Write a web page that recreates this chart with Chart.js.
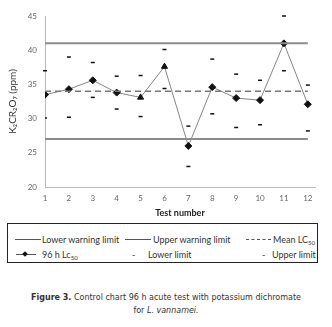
<!DOCTYPE html>
<html lang="en">
<head>
  <meta charset="UTF-8" />
  <title>Control chart 96 h acute test</title>
  <script src="https://cdn.jsdelivr.net/npm/chart.js"></script>
  <style>
    body { margin: 0; background: #fff; font-family: Lato, "Open Sans", sans-serif; }
    #wrap { position: relative; width: 332px; height: 327px; }
    #chartBox { position: absolute; left: 0; top: 0; width: 332px; height: 222px; }

    /* Legend box */
    .legend { position: absolute; left: 7px; top: 223px; width: 311px; height: 40px;
              border: 1px solid #222; box-sizing: border-box; font-size: 9px; color: #333; }
    .legend .t { position: absolute; white-space: nowrap; line-height: 11px; }
    .legend sub { font-size: 6px; vertical-align: -2px; line-height: 0; }
    .legend .ln { position: absolute; height: 0; border-top: 1px solid #555; }
    .legend .dash { position: absolute; height: 0; border-top: 1px dashed #555; }
    .legend .dia { position: absolute; width: 4px; height: 4px; background: #111; transform: rotate(45deg); }

    /* Caption */
    .caption { position: absolute; left: 0; top: 291px; width: 332px; text-align: center;
               font-family: "DejaVu Sans", sans-serif; font-size: 8px; line-height: 13px; color: #333; }
  </style>
</head>
<body>
  <div id="wrap">
    <div id="chartBox"><canvas id="controlChart"></canvas></div>

    <!-- Legend -->
    <div class="legend">
      <div class="ln" style="left:7px; top:15px; width:26px;"></div>
      <span class="t" style="left:34px; top:10px;">Lower warning limit</span>
      <div class="ln" style="left:117px; top:15px; width:26px;"></div>
      <span class="t" style="left:145px; top:10px;">Upper warning limit</span>
      <div class="dash" style="left:238px; top:15px; width:25px;"></div>
      <span class="t" style="left:265px; top:10px;">Mean LC<sub>50</sub></span>

      <div class="ln" style="left:8px; top:30px; width:20px;"></div>
      <div class="dia" style="left:15px; top:28px;"></div>
      <span class="t" style="left:34px; top:25px;">96 h Lc<sub>50</sub></span>
      <span class="t" style="left:124px; top:25px;">-</span>
      <span class="t" style="left:140px; top:25px;">Lower limit</span>
      <span class="t" style="left:254px; top:25px;">-</span>
      <span class="t" style="left:264px; top:25px;">Upper limit</span>
    </div>

    <!-- Caption -->
    <div class="caption">
      <b>Figure 3.</b> Control chart 96 h acute test with potassium dichromate<br>
      for <i>L. vannamei.</i>
    </div>
  </div>

  <script>
    // Data
    const tests = [1, 2, 3, 4, 5, 6, 7, 8, 9, 10, 11, 12];
    const lc50 = [33.5, 34.3, 35.6, 33.8, 33.1, 37.6, 26.0, 34.6, 33.0, 32.7, 41.0, 32.1];
    const lowerLimit = [30.1, 30.2, 33.1, 31.4, 30.3, 34.4, 23.0, 30.7, 28.7, 29.1, 37.0, 28.2];
    const upperLimit = [37.0, 39.0, 38.2, 36.2, 36.3, 40.1, 28.9, 38.7, 36.5, 35.6, 45.0, 34.9];
    const meanLC50 = 34;
    const lowerWarning = 27;
    const upperWarning = 41;
    const yTicks = [20, 25, 30, 35, 40, 45];

    const first = tests[0], last = tests[tests.length - 1];
    const hLine = v => [{ x: first, y: v }, { x: last, y: v }];
    const pts = arr => tests.map((t, i) => ({ x: t, y: arr[i] }));

    new Chart(document.getElementById("controlChart"), {
      type: "line",
      data: {
        datasets: [
          {
            label: "Upper warning limit",
            data: hLine(upperWarning),
            borderColor: "#8c8c8c",
            borderWidth: 2,
            pointRadius: 0
          },
          {
            label: "Lower warning limit",
            data: hLine(lowerWarning),
            borderColor: "#8c8c8c",
            borderWidth: 2,
            pointRadius: 0
          },
          {
            label: "Mean LC50",
            data: hLine(meanLC50),
            borderColor: "#777",
            borderWidth: 1.5,
            borderDash: [6, 4],
            pointRadius: 0
          },
          {
            label: "96 h LC50",
            data: pts(lc50),
            borderColor: "#666",
            borderWidth: 0.8,
            pointStyle: ["rectRot", "rectRot", "rectRot", "rectRot", "triangle", "triangle",
                         "rectRot", "rectRot", "rectRot", "rectRot", "rectRot", "rectRot"],
            pointRadius: 3.5,
            pointBackgroundColor: "#111",
            pointBorderColor: "#111",
            pointBorderWidth: 1
          },
          {
            label: "Lower limit",
            data: pts(lowerLimit),
            showLine: false,
            pointStyle: "line",
            pointRadius: 2,
            pointBorderColor: "#111",
            pointBorderWidth: 1.5
          },
          {
            label: "Upper limit",
            data: pts(upperLimit),
            showLine: false,
            pointStyle: "line",
            pointRadius: 2,
            pointBorderColor: "#111",
            pointBorderWidth: 1.5,
            clip: false
          }
        ]
      },
      options: {
        responsive: true,
        maintainAspectRatio: false,
        animation: false,
        layout: { padding: { top: 16, right: 17, left: 0, bottom: 0 } },
        plugins: {
          legend: { display: false },
          tooltip: { enabled: false }
        },
        scales: {
          x: {
            type: "linear",
            min: first,
            max: last + 0.3,
            grid: { display: false, drawTicks: false },
            border: { display: true, color: "#bbb", width: 1 },
            ticks: {
              stepSize: 1,
              includeBounds: false,
              padding: 7,
              color: "#666",
              font: { family: "Lato", size: 8 }
            },
            title: {
              display: true,
              text: "Test number",
              color: "#222",
              font: { family: "Lato", size: 9, weight: "bold" },
              padding: { top: 2 }
            },
            afterFit: scale => { scale.height = 35; }
          },
          y: {
            min: yTicks[0],
            max: yTicks[yTicks.length - 1],
            grid: { display: false, drawTicks: false },
            border: { display: true, color: "#bbb", width: 1 },
            afterBuildTicks: scale => { scale.ticks = yTicks.map(v => ({ value: v })); },
            ticks: {
              padding: 8,
              color: "#666",
              font: { family: "Lato", size: 8 }
            },
            title: {
              display: true,
              text: "K\u2082CR\u2082O\u2087 (ppm)",
              color: "#333",
              font: { family: "Lato", size: 10 },
              padding: { top: 7, bottom: 0 }
            },
            afterFit: scale => { scale.width = 45; }
          }
        }
      }
    });
  </script>
</body>
</html>
